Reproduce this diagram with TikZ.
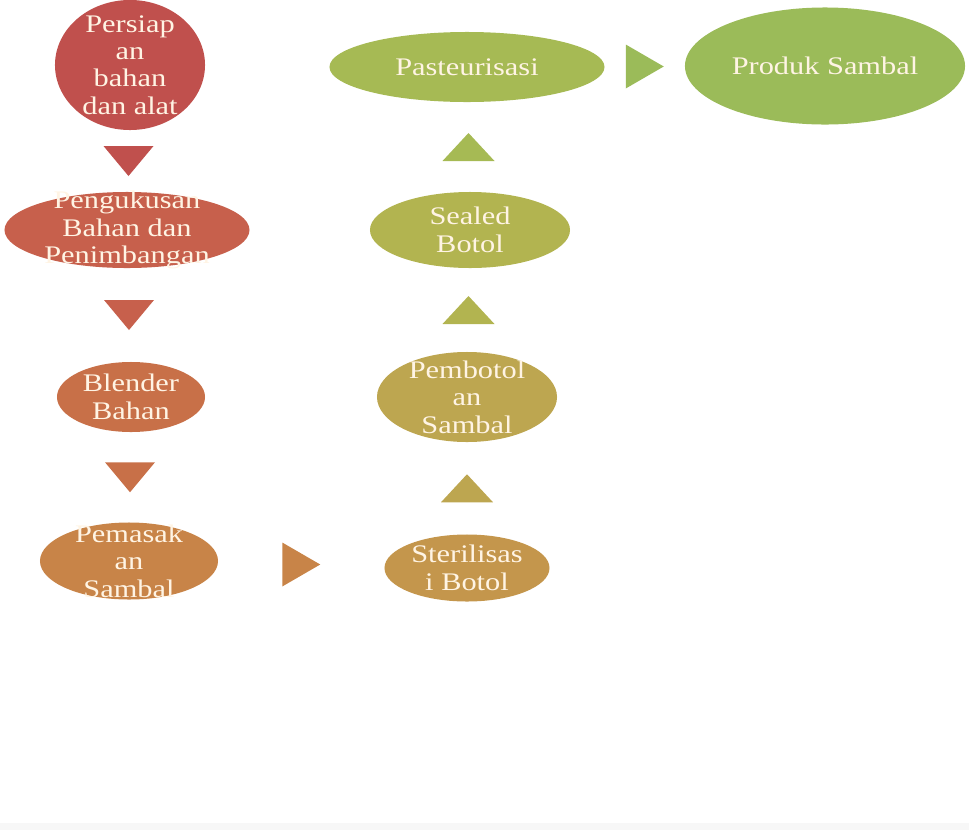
\documentclass[tikz,border=0pt]{standalone}
\usepackage{fontspec}
\setmainfont{Liberation Serif}[FakeStretch=1.2]
\usetikzlibrary{shapes.geometric,calc}

\definecolor{krem}{RGB}{255,244,228}
\definecolor{w1}{RGB}{192,80,77}
\definecolor{w2}{RGB}{199,96,76}
\definecolor{w3}{RGB}{200,112,72}
\definecolor{w4}{RGB}{200,132,72}
\definecolor{w5}{RGB}{196,150,76}
\definecolor{w6}{RGB}{189,166,80}
\definecolor{w7}{RGB}{178,180,80}
\definecolor{w8}{RGB}{166,186,84}
\definecolor{w9}{RGB}{155,187,89}

\begin{document}
\begin{tikzpicture}[
    x=0.025cm, y=-0.025cm,
    proc/.style={ellipse, inner sep=0pt},
    txt/.style={text=krem, align=center, inner sep=0pt, font=\fontsize{18}{19.5}\selectfont}
]
\useasboundingbox (0,0) rectangle (969,830);
\fill[gray!6] (0,823) rectangle (969,830);

% proses
\node[proc, fill=w1, minimum width=3.75cm, minimum height=3.25cm, label={[txt]center:{Persiap\\an\\bahan\\dan alat}}] (persiapan) at (130,65) {};
\node[proc, fill=w2, minimum width=6.125cm, minimum height=1.9cm, label={[txt]center:{Pengukusan\\Bahan dan\\Penimbangan}}] (pengukusan) at (127,230) {};
\node[proc, fill=w3, minimum width=3.7cm, minimum height=1.75cm, label={[txt]center:{Blender\\Bahan}}] (blender) at (131,397) {};
\node[proc, fill=w4, minimum width=4.45cm, minimum height=1.925cm, label={[txt]center:{Pemasak\\an\\Sambal}}] (pemasakan) at (129,561) {};
\node[proc, fill=w5, minimum width=4.125cm, minimum height=1.675cm, label={[txt]center:{Sterilisas\\i Botol}}] (sterilisasi) at (467,568) {};
\node[proc, fill=w6, minimum width=4.5cm, minimum height=2.25cm, label={[txt]center:{Pembotol\\an\\Sambal}}] (pembotolan) at (467,397) {};
\node[proc, fill=w7, minimum width=5cm, minimum height=1.9cm, label={[txt]center:{Sealed\\Botol}}] (sealed) at (470,230) {};
\node[proc, fill=w8, minimum width=6.875cm, minimum height=1.75cm, label={[txt]center:{Pasteurisasi}}] (pasteurisasi) at (467,67) {};
\node[proc, fill=w9, minimum width=7cm, minimum height=2.925cm, label={[txt]center:{Produk Sambal}}] (produk) at (825,66) {};

% panah segitiga
\coordinate (p1) at ($(persiapan.south)!0.5!(pengukusan.north)$);
\coordinate (p2) at ($(pengukusan.south)!0.5!(blender.north)$);
\coordinate (p3) at ($(blender.south)!0.5!(pemasakan.north)$);
\coordinate (p4) at ($(pemasakan.east)!0.5!(sterilisasi.west)$);
\coordinate (p5) at ($(sterilisasi.north)!0.5!(pembotolan.south)$);
\coordinate (p6) at ($(pembotolan.north)!0.5!(sealed.south)$);
\coordinate (p7) at ($(sealed.north)!0.5!(pasteurisasi.south)$);
\coordinate (p8) at ($(pasteurisasi.east)!0.5!(produk.west)$);

\foreach \p/\c in {p1/w1, p2/w2, p3/w3}
  \fill[\c] ([shift={(-25,-15)}]\p) -- ([shift={(25,-15)}]\p) -- ([shift={(0,15)}]\p) -- cycle;
\foreach \p/\c in {p5/w6, p6/w7, p7/w8}
  \fill[\c] ([shift={(-26,14)}]\p) -- ([shift={(26,14)}]\p) -- ([shift={(0,-14)}]\p) -- cycle;
\foreach \p/\c in {p4/w4, p8/w9}
  \fill[\c] ([shift={(-19,-22)}]\p) -- ([shift={(-19,22)}]\p) -- ([shift={(19,0)}]\p) -- cycle;
\end{tikzpicture}
\end{document}
